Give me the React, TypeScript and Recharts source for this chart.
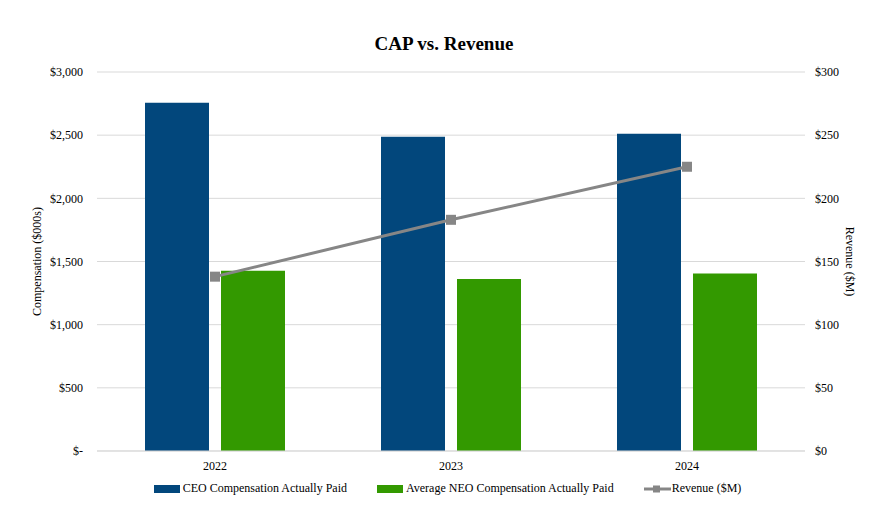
import { ComposedChart, Bar, Line, XAxis, YAxis, CartesianGrid, Legend } from 'recharts'

const years = ['2022', '2023', '2024']
const ceoCap = [2757, 2488, 2512]
const neoCap = [1427, 1361, 1405]
const revenue = [138, 183, 225]

const compTicks = [0, 500, 1000, 1500, 2000, 2500, 3000]
const revTicks = [0, 50, 100, 150, 200, 250, 300]

const CEO_COLOR = '#02477C'
const NEO_COLOR = '#339900'
const REV_COLOR = '#868686'
const FONT = '"Liberation Serif", "Times New Roman", serif'

const data = years.map((year, i) => ({
  year,
  ceo: ceoCap[i],
  neo: neoCap[i],
  revenue: revenue[i],
}))

const fmtComp = (v: number) => (v === 0 ? '$-' : '$' + v.toLocaleString('en-US'))
const fmtRev = (v: number) => '$' + v

// square marker for the revenue line
const SquareDot = (props: any) => {
  const { cx, cy, index } = props
  return <rect key={`dot-${index}`} x={cx - 5} y={cy - 5} width={10} height={10} fill={REV_COLOR} />
}

const legendItems = [
  { label: 'CEO Compensation Actually Paid', color: CEO_COLOR, type: 'bar' },
  { label: 'Average NEO Compensation Actually Paid', color: NEO_COLOR, type: 'bar' },
  { label: 'Revenue ($M)', color: REV_COLOR, type: 'line' },
]

const renderLegend = () => (
  <div style={{ display: 'flex', justifyContent: 'center', alignItems: 'center', gap: 30, fontFamily: FONT, fontSize: 12, color: '#000' }}>
    {legendItems.map((item) => (
      <div key={item.label} style={{ display: 'flex', alignItems: 'center' }}>
        {item.type === 'bar' ? (
          <svg width={26} height={8} style={{ marginRight: 3 }}>
            <rect x={0} y={0} width={26} height={8} fill={item.color} />
          </svg>
        ) : (
          <svg width={27} height={10} style={{ marginRight: 1 }}>
            <line x1={0} y1={5} x2={27} y2={5} stroke={item.color} strokeWidth={3} />
            <rect x={9} y={1.5} width={7} height={7} fill={item.color} />
          </svg>
        )}
        <span>{item.label}</span>
      </div>
    ))}
  </div>
)

export default function App() {
  return (
    <div style={{ position: 'absolute', left: 0, top: 0, width: 895, height: 519, background: '#fff', fontFamily: FONT }}>
      <div
        style={{
          position: 'absolute',
          top: 33,
          left: 0,
          width: 888,
          textAlign: 'center',
          fontFamily: FONT,
          fontWeight: 'bold',
          fontSize: 19,
          color: '#000',
        }}
      >
        CAP vs. Revenue
      </div>
      <ComposedChart
        width={895}
        height={519}
        data={data}
        margin={{ top: 72, right: 0, bottom: 0, left: 0 }}
        barGap={12}
        style={{ fontFamily: FONT }}
      >
        <CartesianGrid vertical={false} stroke="#D9D9D9" yAxisId="comp" />
        <XAxis
          dataKey="year"
          height={30}
          axisLine={{ stroke: '#D9D9D9' }}
          tickLine={false}
          tickMargin={4}
          tick={{ fill: '#000', fontSize: 12, fontFamily: FONT }}
        />
        <YAxis
          yAxisId="comp"
          orientation="left"
          width={97}
          domain={[0, 3000]}
          ticks={compTicks}
          tickFormatter={fmtComp}
          axisLine={false}
          tickLine={false}
          tickSize={0}
          tickMargin={14}
          tick={{ fill: '#000', fontSize: 12, fontFamily: FONT }}
          label={{ value: 'Compensation ($000s)', angle: -90, position: 'insideLeft', offset: 37, style: { textAnchor: 'middle', fill: '#000', fontSize: 12, fontFamily: FONT } }}
        />
        <YAxis
          yAxisId="rev"
          orientation="right"
          width={90}
          domain={[0, 300]}
          ticks={revTicks}
          tickFormatter={fmtRev}
          axisLine={false}
          tickLine={false}
          tickSize={0}
          tickMargin={10}
          tick={{ fill: '#000', fontSize: 12, fontFamily: FONT }}
          label={{ value: 'Revenue ($M)', angle: 90, position: 'insideRight', offset: 45, style: { textAnchor: 'middle', fill: '#000', fontSize: 12, fontFamily: FONT } }}
        />
        <Legend verticalAlign="bottom" height={38} content={renderLegend} />
        <Bar yAxisId="comp" dataKey="ceo" name="CEO Compensation Actually Paid" fill={CEO_COLOR} barSize={64} isAnimationActive={false} />
        <Bar yAxisId="comp" dataKey="neo" name="Average NEO Compensation Actually Paid" fill={NEO_COLOR} barSize={64} isAnimationActive={false} />
        <Line
          yAxisId="rev"
          dataKey="revenue"
          name="Revenue ($M)"
          stroke={REV_COLOR}
          strokeWidth={3}
          dot={SquareDot}
          activeDot={false}
          isAnimationActive={false}
        />
      </ComposedChart>
    </div>
  )
}
